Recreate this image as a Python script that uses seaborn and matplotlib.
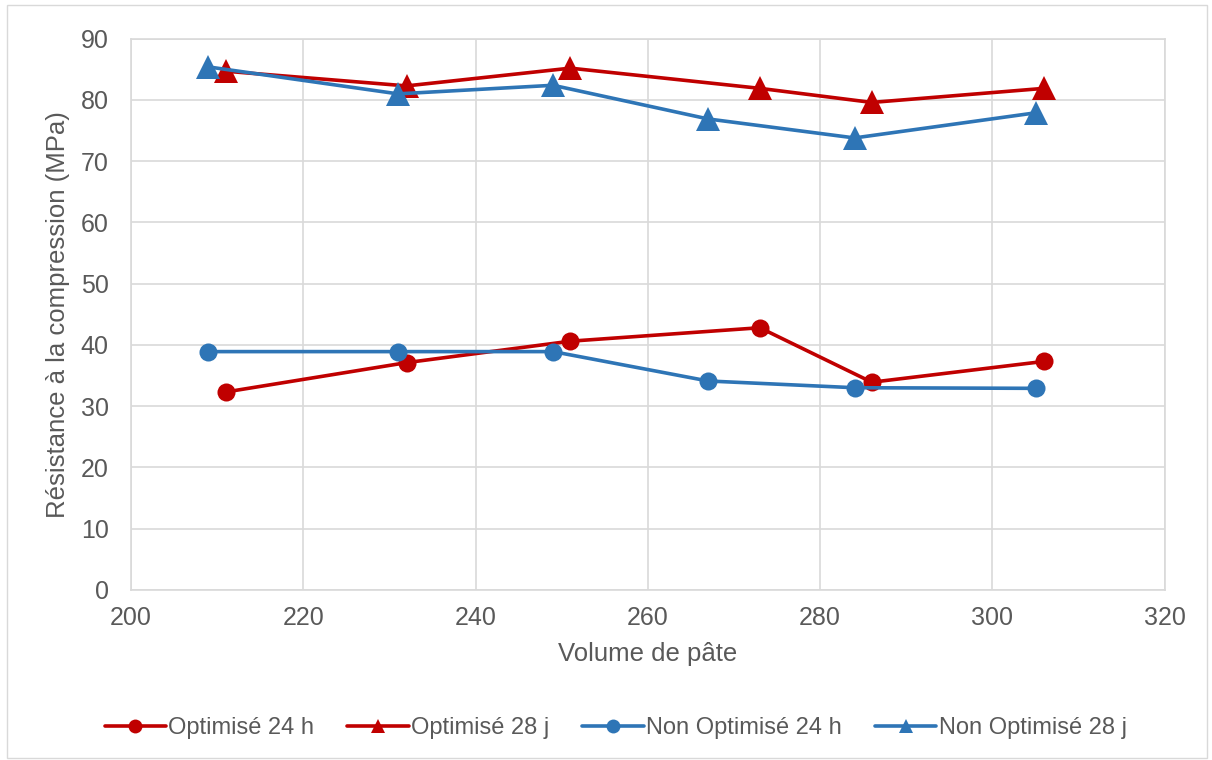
import pandas as pd
import matplotlib
matplotlib.use('Agg')
import matplotlib.pyplot as plt
import seaborn as sns
from matplotlib.lines import Line2D
from matplotlib.patches import Rectangle

# Values
x_opt = [211, 232, 251, 273, 286, 306]
opt_24h = [32.3, 37.1, 40.6, 42.8, 33.9, 37.3]
opt_28j = [84.7, 82.3, 85.2, 81.9, 79.6, 81.9]

x_non = [209, 231, 249, 267, 284, 305]
non_24h = [38.9, 38.9, 38.9, 34.1, 33.0, 32.9]
non_28j = [85.4, 81.0, 82.4, 76.9, 73.8, 77.9]

red = '#C00000'
blue = '#2E75B6'
grey_text = '#595959'

sns.set_style('white')
plt.rcParams['font.family'] = ['Liberation Sans', 'DejaVu Sans']

fig = plt.figure(figsize=(12.12, 7.6), dpi=100)
ax = fig.add_axes([0.108, 0.224, 0.853, 0.725])

series = [
    ('Optimisé 24 h', x_opt, opt_24h, red, 'o', 13),
    ('Optimisé 28 j', x_opt, opt_28j, red, '^', 17),
    ('Non Optimisé 24 h', x_non, non_24h, blue, 'o', 13),
    ('Non Optimisé 28 j', x_non, non_28j, blue, '^', 17),
]

for name, xs, ys, col, mk, ms in series:
    df = pd.DataFrame({'Volume': xs, 'Resistance': ys})
    sns.lineplot(data=df, x='Volume', y='Resistance', ax=ax, color=col,
                 marker=mk, markersize=ms, markeredgewidth=0, linewidth=2.6,
                 sort=False, legend=False)

ax.set_xlim(200, 320)
ax.set_ylim(0, 90)
ax.set_xticks(range(200, 321, 20))
ax.set_yticks(range(0, 91, 10))
ax.grid(True, color='#D9D9D9', linewidth=1.2)
ax.set_axisbelow(True)
for s in ax.spines.values():
    s.set_color('#D9D9D9')
    s.set_linewidth(1.2)
ax.tick_params(axis='y', length=0, labelsize=18, labelcolor=grey_text, pad=16)
ax.tick_params(axis='x', length=0, labelsize=18, labelcolor=grey_text, pad=12)
ax.set_xlabel('Volume de pâte', fontsize=18.5, color=grey_text, labelpad=8)
ax.set_ylabel('Résistance à la compression (MPa)', fontsize=18.5, color=grey_text, labelpad=8)

# legend with smaller markers than the plot, as in the source chart
handles = [Line2D([0], [0], color=col, marker=mk, markersize=10, markeredgewidth=0,
                  linewidth=2.6, label=name)
           for name, xs, ys, col, mk, ms in series]
fig.legend(handles=handles, loc='center', bbox_to_anchor=(0.508, 0.042), ncol=4,
           frameon=False, fontsize=17, labelcolor=grey_text, handlelength=2.6,
           handletextpad=0.1, columnspacing=1.4)

fig.patches.append(Rectangle((0.006, 0.003), 0.99, 0.99, transform=fig.transFigure,
                             fill=False, edgecolor='#D9D9D9', linewidth=1))

fig.savefig('out.png', dpi=100)
